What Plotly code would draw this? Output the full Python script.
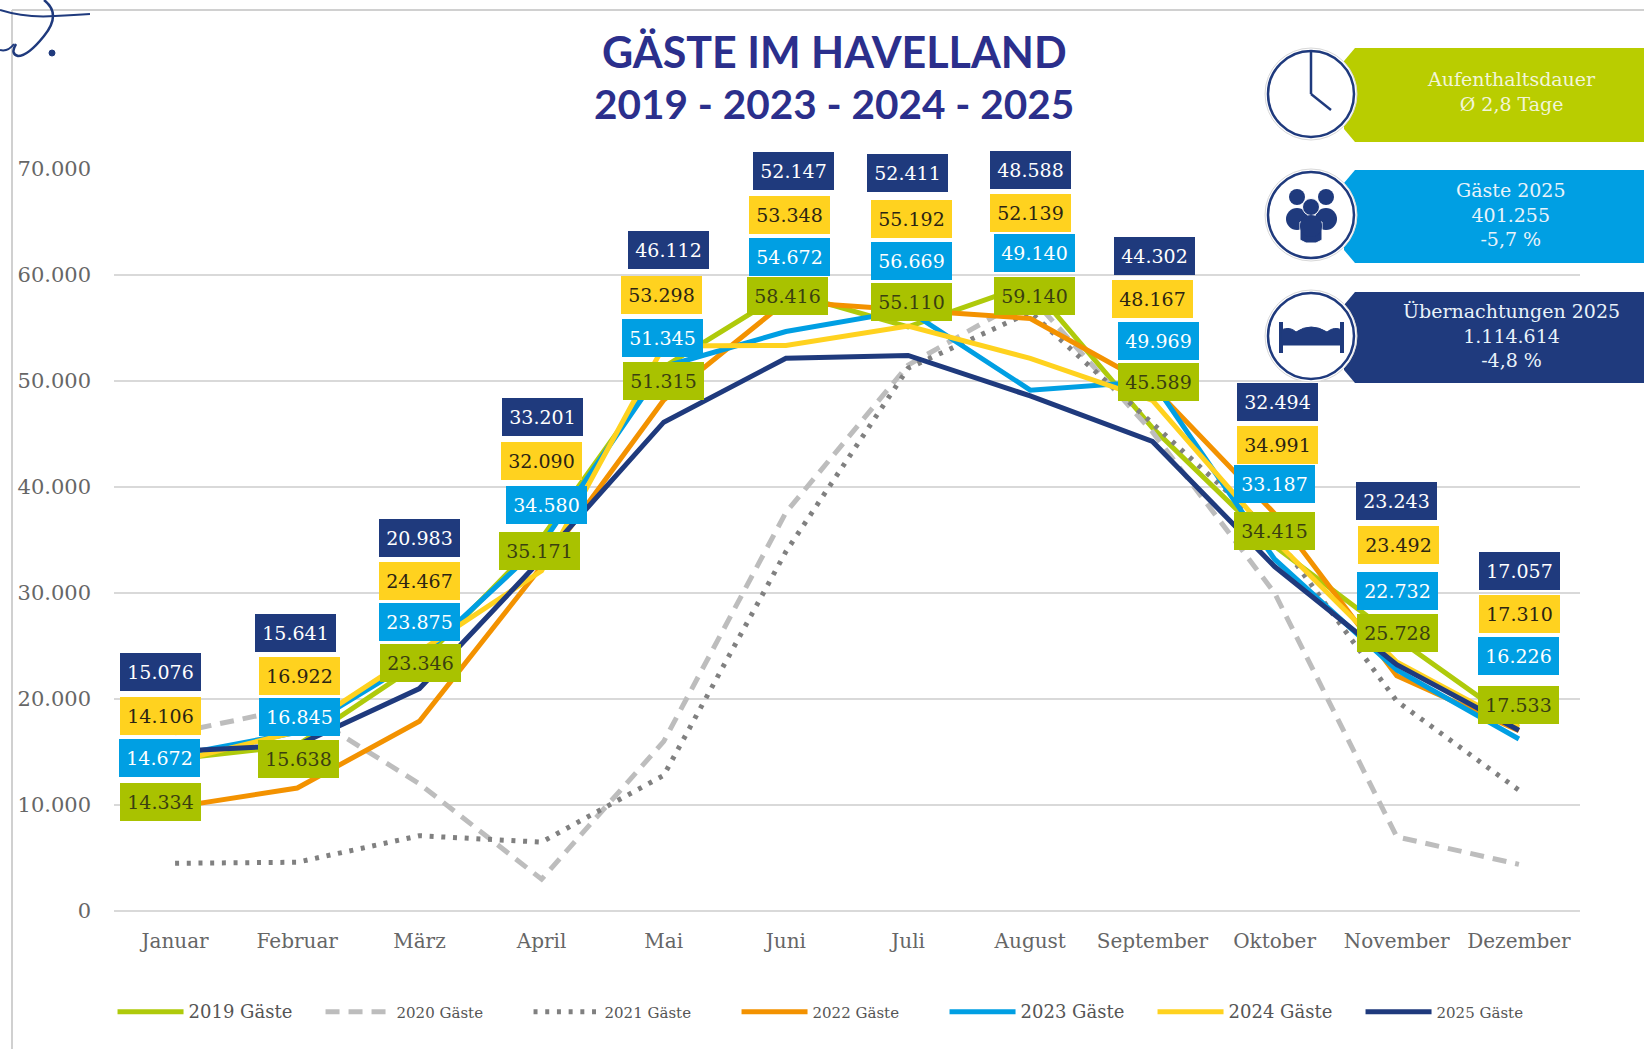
import re
import plotly.graph_objects as go

months = ["Januar", "Februar", "März", "April", "Mai", "Juni", "Juli", "August",
          "September", "Oktober", "November", "Dezember"]
g2019 = [14334, 15638, 23346, 35171, 51315, 58416, 55110, 59140, 45589, 34415, 25728, 17533]
g2020 = [16800, 19200, 12000, 3000, 16000, 37600, 51500, 58000, 45200, 30000, 7000, 4400]
g2021 = [4500, 4600, 7100, 6500, 12800, 33900, 51200, 56500, 46000, 35500, 19800, 11400]
g2022 = [9800, 11600, 17900, 32500, 48200, 57500, 56700, 55900, 49500, 37500, 22200, 17000]
g2023 = [14672, 16845, 23875, 34580, 51345, 54672, 56669, 49140, 49969, 33187, 22732, 16226]
g2024 = [14106, 16922, 24467, 32090, 53298, 53348, 55192, 52139, 48167, 34991, 23492, 17310]
g2025 = [15076, 15641, 20983, 33201, 46112, 52147, 52411, 48588, 44302, 32494, 23243, 17057]
y_ticks = [0, 10000, 20000, 30000, 40000, 50000, 60000, 70000]

GREEN, BLUE, YELLOW, ORANGE, NAVY = "#afca0b", "#009fe3", "#ffd21f", "#f39200", "#1f3a7d"
LABEL_GREEN = "#a9c200"
SERIF = "DejaVu Serif"
W, H = 1644, 1049
L, R, T, B = 114, 1580, 169, 911


def X(p):
    return (p - L) / (R - L)


def Y(p):
    return (B - p) / (B - T)


fig = go.Figure()
series = [
    ("2019 Gäste", g2019, GREEN, "solid", 18),
    ("2020 Gäste", g2020, "#bdbdbd", "14px,9px", 15),
    ("2021 Gäste", g2021, "#808080", "4px,7.7px", 15),
    ("2022 Gäste", g2022, ORANGE, "solid", 15),
    ("2023 Gäste", g2023, BLUE, "solid", 18),
    ("2024 Gäste", g2024, YELLOW, "solid", 18),
    ("2025 Gäste", g2025, NAVY, "solid", 15),
]
for name, vals, col, dash, fs in series:
    fig.add_trace(go.Scatter(
        x=months, y=vals, mode="lines",
        name=f'<span style="font-size:{fs}px">{name}</span>',
        line=dict(color=col, width=5, dash=dash),
        cliponaxis=False,
    ))

# free-standing value boxes, pixel centres taken from the layout of the reference
box_layout = [
    (g2025, NAVY, "white",
     [153, 282, 400, 517, 638, 757, 866, 983, 1101, 1218, 1332, 1449],
     [641, 604, 513, 398, 238, 163, 165, 162, 244, 383, 478, 545]),
    (g2024, YELLOW, "#2b2413",
     [153, 286, 400, 516, 631, 753, 869, 983, 1099, 1218, 1334, 1449],
     [683, 645, 554, 440, 281, 205, 209, 203, 285, 424, 520, 586]),
    (g2023, BLUE, "white",
     [152, 286, 400, 521, 632, 753, 869, 987, 1105, 1216, 1333, 1448],
     [723, 684, 593, 482, 322, 245, 249, 241, 325, 462, 564, 626]),
    (g2019, LABEL_GREEN, "#3a4010",
     [153, 285, 401, 515, 633, 751, 869, 987, 1105, 1216, 1333, 1448],
     [765, 724, 632, 526, 363, 282, 288, 282, 364, 506, 604, 672]),
]
SCALE = 1644 / 1568
for vals, bg, fg, xs, ys in box_layout:
    for v, bx, by in zip(vals, xs, ys):
        fig.add_annotation(
            xref="paper", yref="paper", x=X(bx * SCALE), y=Y(by * SCALE),
            text=f"{v:,}".replace(",", "."), showarrow=False,
            xanchor="center", yanchor="middle", align="center", valign="middle",
            width=81, height=38, bgcolor=bg, borderpad=0, borderwidth=0,
            font=dict(family=SERIF, size=19, color=fg),
        )

# title
fig.add_annotation(xref="paper", yref="paper", x=X(834), y=Y(51), text="GÄSTE IM HAVELLAND",
                   showarrow=False, xanchor="center", yanchor="middle",
                   font=dict(family="Lato", size=43, color="#2b2f8c", weight=700))
fig.add_annotation(xref="paper", yref="paper", x=X(834), y=Y(104), text="2019 - 2023 - 2024 - 2025",
                   showarrow=False, xanchor="center", yanchor="middle",
                   font=dict(family="Lato", size=40.5, color="#2b2f8c", weight=700))

shapes = []


def add_line(x0, y0, x1, y1, col, w):
    shapes.append(dict(type="line", xref="paper", yref="paper", x0=X(x0), y0=Y(y0), x1=X(x1), y1=Y(y1),
                       line=dict(color=col, width=w)))


def add_path(pts, fill, col=None, w=0):
    d = "M " + " L ".join(f"{X(a)},{Y(b)}" for a, b in pts) + " Z"
    shapes.append(dict(type="path", xref="paper", yref="paper", path=d, fillcolor=fill,
                       line=dict(color=col or fill, width=w)))


def add_circle(cx, cy, r, fill, col, w):
    shapes.append(dict(type="circle", xref="paper", yref="paper",
                       x0=X(cx - r), x1=X(cx + r), y0=Y(cy - r), y1=Y(cy + r),
                       fillcolor=fill, line=dict(color=col, width=w)))


def add_curve(d, w):
    out = []
    for t in re.split(r"\s+", d.strip()):
        if "," in t:
            a, b = t.split(",")
            out.append(f"{X(float(a))},{Y(float(b))}")
        else:
            out.append(t)
    shapes.append(dict(type="path", xref="paper", yref="paper", path=" ".join(out),
                       line=dict(color="#1f3a7d", width=w)))


# outer frame lines
add_line(12, 10, 1644, 10, "#d0d0d0", 2)
add_line(12, 10, 12, 1049, "#d0d0d0", 2)

# flourish in the top-left corner
add_curve("M 0,10 Q 25,18 55,16 Q 75,15 90,14", 2)
add_curve("M 44,0 Q 62,14 44,36 Q 28,56 18,56 Q 10,54 16,44", 2.5)
add_curve("M 0,50 Q 8,52 14,44", 2)
add_circle(52, 53, 3, "#1f3a7d", "#1f3a7d", 1)

# info panels
for y0, y1, col in [(48, 142, "#b9cd00"), (170, 263, BLUE), (292, 383, NAVY)]:
    add_path([(1355, y0), (1344, y0 + 13), (1344, y1 - 13), (1355, y1), (1644, y1), (1644, y0)], col)
for cy in (94, 215, 336):
    add_circle(1311, cy, 46, "white", "#d8d8d8", 1)
    add_circle(1311, cy, 43, "white", NAVY, 2.5)

# clock hands
add_line(1311, 51, 1311, 94, NAVY, 2.5)
add_line(1311, 94, 1331, 110, NAVY, 2.5)
# people
for cx, cy in [(1297, 197), (1326, 197)]:
    add_circle(cx, cy, 8, NAVY, NAVY, 0)
add_circle(1297, 219, 11, NAVY, NAVY, 0)
add_circle(1326, 219, 11, NAVY, NAVY, 0)
add_circle(1311, 207, 8.5, NAVY, "white", 1)
add_path([(1300, 222), (1322, 222), (1322, 240), (1316, 243), (1306, 243), (1300, 240)], NAVY, "white", 1)
add_circle(1311, 226, 11, NAVY, NAVY, 0)
# bed
add_line(1281, 322, 1281, 353, NAVY, 4)
add_line(1342, 322, 1342, 353, NAVY, 4)
add_curve("M 1281,345 L 1281,330 Q 1290,326 1296,332 Q 1311,322 1327,332 Q 1334,326 1342,330 L 1342,345 Z", 1)
shapes[-1]["fillcolor"] = NAVY
shapes[-1]["line"]["color"] = NAVY

fig.update_layout(shapes=shapes)

for text, cy in [("Aufenthaltsdauer<br>Ø 2,8 Tage", 92),
                 ("Gäste 2025<br>401.255<br>-5,7 %", 214),
                 ("Übernachtungen 2025<br>1.114.614<br>-4,8 %", 335)]:
    fig.add_annotation(xref="paper", yref="paper", x=X(1511), y=Y(cy), text=text, showarrow=False,
                       xanchor="center", yanchor="middle", align="center",
                       font=dict(family=SERIF, size=19, color="#f2f5d8" if cy == 92 else "#e9f3fa"))

fig.update_layout(
    width=W, height=H, autosize=False,
    margin=dict(l=L, r=W - R, t=T, b=H - B, pad=0),
    paper_bgcolor="white", plot_bgcolor="white",
    showlegend=True,
    legend=dict(orientation="h", x=-0.001, xanchor="left", y=Y(1012), yanchor="middle",
                itemwidth=66, entrywidth=127, entrywidthmode="pixels",
                bgcolor="rgba(0,0,0,0)", traceorder="normal",
                font=dict(family=SERIF, size=15, color="#555555")),
    xaxis=dict(type="category", categoryorder="array", categoryarray=months, range=[-0.5, 11.5],
               showgrid=False, showline=False, zeroline=False, ticks="", ticklabelstandoff=16,
               tickfont=dict(family=SERIF, size=20, color="#666666")),
    yaxis=dict(range=[0, 70000], tickvals=y_ticks, ticktext=[f"{v:,}".replace(",", ".") for v in y_ticks],
               showgrid=True, gridcolor="#d9d9d9", gridwidth=2, zeroline=True, zerolinecolor="#d9d9d9",
               zerolinewidth=2, showline=False, ticks="", ticklabelstandoff=22,
               tickfont=dict(family=SERIF, size=21, color="#666666")),
)

fig.write_html("out.html", config={"displayModeBar": False},
               post_script="document.body.style.margin='0';document.body.style.overflow='hidden';")
